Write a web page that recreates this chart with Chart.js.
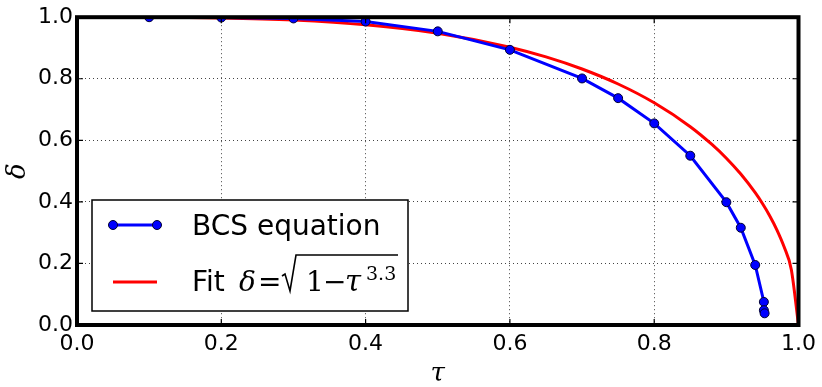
<!DOCTYPE html>
<html>
<head>
<meta charset="utf-8">
<script src="https://cdn.jsdelivr.net/npm/chart.js@4/dist/chart.umd.min.js"></script>
<style>
  html, body { margin: 0; padding: 0; background: #fff; }
  #wrap { width: 822px; height: 387px; }
</style>
</head>
<body>
<div id="wrap"><canvas id="graf" width="822" height="387"></canvas></div>
<script>
// BCS data points
const bcsTau   = [0.1, 0.2, 0.3, 0.4, 0.5, 0.6, 0.7, 0.75, 0.8, 0.85, 0.9, 0.92, 0.94, 0.952, 0.952, 0.953];
const bcsDelta = [1.0, 0.999, 0.996, 0.986, 0.954, 0.894, 0.801, 0.737, 0.655, 0.55, 0.399, 0.316, 0.195, 0.075, 0.048, 0.038];

// fit curve
const fitTau   = [0.0, 0.1, 0.2, 0.3, 0.4, 0.5, 0.6, 0.65, 0.7, 0.75, 0.8, 0.85, 0.88, 0.9, 0.92, 0.94, 0.95, 0.96, 0.97, 0.98, 0.99, 1.0];
const fitDelta = [1.0, 0.9998, 0.9975, 0.9905, 0.9754, 0.9479, 0.9026, 0.871, 0.8317, 0.783, 0.7219, 0.6443, 0.5866, 0.5419, 0.4904, 0.4298, 0.3946, 0.355, 0.3092, 0.254, 0.1806, 0.0];

const ticks = [0.0, 0.2, 0.4, 0.6, 0.8, 1.0];

const pts = (xs, ys) => xs.map((x, i) => ({ x: x, y: ys[i] }));

// frame, inward ticks, axis titles and legend drawn on top
const extras = {
    id: "extras",
    afterDatasetsDraw(chart) {
        const ctx = chart.ctx;
        const a = chart.chartArea;
        const sx = chart.scales.x, sy = chart.scales.y;
        ctx.save();

        // inward tick marks on all four sides
        ctx.strokeStyle = "#000";
        ctx.lineWidth = 1.2;
        ctx.beginPath();
        ticks.forEach(v => {
            const px = sx.getPixelForValue(v), py = sy.getPixelForValue(v);
            ctx.moveTo(px, a.bottom); ctx.lineTo(px, a.bottom - 6);
            ctx.moveTo(px, a.top); ctx.lineTo(px, a.top + 6);
            ctx.moveTo(a.left, py); ctx.lineTo(a.left + 6, py);
            ctx.moveTo(a.right, py); ctx.lineTo(a.right - 6, py);
        });
        ctx.stroke();

        ctx.lineWidth = 4;
        ctx.strokeRect(a.left, a.top, a.right - a.left, a.bottom - a.top);

        // axis titles
        ctx.fillStyle = "#000";
        ctx.font = "italic 26px 'DejaVu Serif'";
        ctx.textAlign = "center";
        ctx.textBaseline = "middle";
        ctx.fillText("τ", (a.left + a.right) / 2, 374);
        ctx.save();
        ctx.translate(18, (a.top + a.bottom) / 2);
        ctx.rotate(-Math.PI / 2);
        ctx.fillText("δ", 0, 0);
        ctx.restore();

        // legend box
        ctx.fillStyle = "#fff";
        ctx.fillRect(92, 200, 316, 111);
        ctx.lineWidth = 1.5;
        ctx.strokeStyle = "#000";
        ctx.strokeRect(92, 200, 316, 111);

        // row 1: BCS
        ctx.strokeStyle = "#0000ff";
        ctx.lineWidth = 3;
        ctx.beginPath();
        ctx.moveTo(113, 225); ctx.lineTo(157, 225);
        ctx.stroke();
        ctx.fillStyle = "#0000ff";
        ctx.strokeStyle = "#000033";
        ctx.lineWidth = 1;
        [113, 157].forEach(x => {
            ctx.beginPath();
            ctx.arc(x, 225, 4.5, 0, Math.PI * 2);
            ctx.fill();
            ctx.stroke();
        });
        ctx.fillStyle = "#000";
        ctx.textAlign = "left";
        ctx.textBaseline = "alphabetic";
        ctx.font = "28px 'DejaVu Sans'";
        ctx.fillText("BCS equation", 192, 235);

        // row 2: fit
        ctx.strokeStyle = "#ff0000";
        ctx.lineWidth = 3;
        ctx.beginPath();
        ctx.moveTo(113, 282); ctx.lineTo(157, 282);
        ctx.stroke();

        const base = 291;
        ctx.fillStyle = "#000";
        ctx.font = "28px 'DejaVu Sans'";
        ctx.fillText("Fit", 192, base);
        ctx.font = "italic 28px 'DejaVu Serif'";
        ctx.fillText("δ", 239, base);
        ctx.font = "28px 'DejaVu Serif'";
        ctx.fillText("=", 258, base);
        // radical sign
        ctx.strokeStyle = "#000";
        ctx.lineWidth = 1.6;
        ctx.beginPath();
        ctx.moveTo(282, base - 15);
        ctx.lineTo(285, base - 17);
        ctx.lineTo(290, base);
        ctx.lineTo(296, base - 36);
        ctx.lineTo(398, base - 36);
        ctx.stroke();
        ctx.fillText("1", 306, base);
        ctx.fillText("−", 323, base);
        ctx.font = "italic 29px 'DejaVu Serif'";
        ctx.fillText("τ", 345, base);
        ctx.font = "19px 'DejaVu Serif'";
        ctx.fillText("3.3", 366, base - 11);
        ctx.restore();
    }
};

new Chart(document.getElementById("graf").getContext("2d"), {
    type: "line",
    data: {
        datasets: [
            {
                label: "BCS equation",
                data: pts(bcsTau, bcsDelta),
                borderColor: "#0000ff",
                backgroundColor: "#0000ff",
                borderWidth: 3,
                pointRadius: 4.5,
                pointBorderColor: "#000033",
                pointBorderWidth: 1,
                pointBackgroundColor: "#0000ff",
                tension: 0,
                order: 1
            },
            {
                label: "Fit",
                data: pts(fitTau, fitDelta),
                borderColor: "#ff0000",
                borderWidth: 3,
                pointRadius: 0,
                cubicInterpolationMode: "monotone",
                order: 2
            }
        ]
    },
    options: {
        responsive: false,
        animation: false,
        layout: { padding: { left: 0, right: 22, top: 11, bottom: 0 } },
        plugins: { legend: { display: false }, tooltip: { enabled: false } },
        scales: {
            x: {
                type: "linear",
                min: 0, max: 1,
                afterBuildTicks: s => { s.ticks = ticks.map(v => ({ value: v })); },
                afterFit: s => { s.height = 62; },
                ticks: {
                    padding: 6,
                    color: "#000",
                    font: { family: "'DejaVu Sans'", size: 22 },
                    callback: v => v.toFixed(1),
                    maxRotation: 0
                },
                grid: { color: "#444", lineWidth: 1, drawTicks: false },
                border: { display: false, dash: [1, 3] }
            },
            y: {
                type: "linear",
                min: 0, max: 1,
                afterBuildTicks: s => { s.ticks = ticks.map(v => ({ value: v })); },
                afterFit: s => { s.width = 77; },
                ticks: {
                    padding: 4,
                    color: "#000",
                    font: { family: "'DejaVu Sans'", size: 22 },
                    callback: v => v.toFixed(1)
                },
                grid: { color: "#444", lineWidth: 1, drawTicks: false },
                border: { display: false, dash: [1, 3] }
            }
        }
    },
    plugins: [extras]
});
</script>
</body>
</html>
